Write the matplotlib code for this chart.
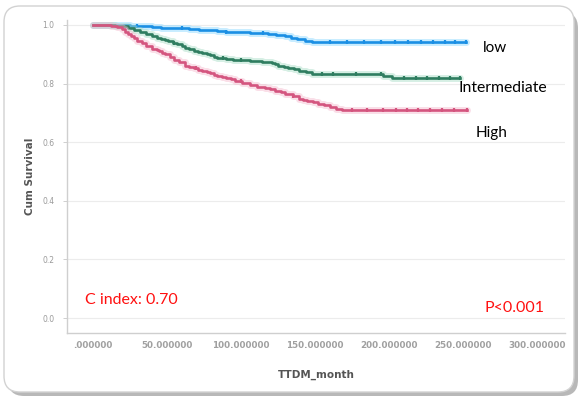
import numpy as np
import matplotlib.pyplot as plt
from matplotlib.patches import FancyBboxPatch
from matplotlib.transforms import IdentityTransform

# Kaplan-Meier estimates per risk group (months, cumulative survival)
low_t = [0, 10, 25, 33, 40, 46, 52, 58, 65, 72, 78, 84, 90, 95, 100, 106,
         112, 118, 124, 130, 134, 138, 143, 148, 252]
low_s = [1.0, 1.0, 0.997, 0.995, 0.993, 0.991, 0.99, 0.988, 0.986, 0.984,
         0.982, 0.979, 0.977, 0.976, 0.975, 0.973, 0.971, 0.968, 0.965, 0.962,
         0.957, 0.952, 0.947, 0.942, 0.942]

mid_t = [0, 15, 20, 24, 28, 32, 36, 40, 43, 46, 49, 51, 54, 57, 60, 62, 65,
         68, 71, 74, 77, 79, 82, 84, 90, 95, 100, 106, 110, 114, 118, 121, 123,
         125, 129, 132, 136, 139, 144, 148, 170, 189, 196, 202, 248]
mid_s = [1.0, 0.998, 0.995, 0.99, 0.983, 0.975, 0.968, 0.962, 0.957, 0.952,
         0.948, 0.946, 0.94, 0.935, 0.928, 0.922, 0.917, 0.912, 0.908, 0.905,
         0.9, 0.896, 0.892, 0.888, 0.885, 0.882, 0.88, 0.878, 0.876, 0.875,
         0.873, 0.871, 0.866, 0.861, 0.857, 0.853, 0.849, 0.844, 0.839, 0.834,
         0.834, 0.832, 0.825, 0.819, 0.819]

high_t = [0, 12, 16, 20, 22, 24, 26, 28, 30, 33, 36, 40, 43, 45, 47, 49, 52,
          55, 58, 62, 65, 68, 71, 74, 77, 79, 82, 84, 87, 90, 93, 96, 101, 106,
          111, 116, 120, 123, 127, 130, 135, 139, 142, 145, 149, 152, 156, 160,
          164, 168, 253]
high_s = [1.0, 0.998, 0.993, 0.985, 0.977, 0.969, 0.962, 0.955, 0.947, 0.939,
          0.929, 0.919, 0.914, 0.91, 0.906, 0.902, 0.892, 0.882, 0.872, 0.861,
          0.856, 0.852, 0.848, 0.844, 0.839, 0.835, 0.831, 0.827, 0.823, 0.819,
          0.815, 0.81, 0.802, 0.795, 0.79, 0.786, 0.781, 0.776, 0.771, 0.766,
          0.757, 0.749, 0.745, 0.742, 0.737, 0.732, 0.726, 0.72, 0.715, 0.71,
          0.71]

# censored observations
low_cens = [30, 60, 90, 115, 160, 172, 183, 195, 204, 213, 222, 230, 238, 245, 252]
mid_cens = [55, 88, 100, 155, 162, 178, 195, 210, 218, 226, 234, 241, 248]
high_cens = [70, 100, 135, 175, 185, 196, 205, 212, 220, 228, 236, 244, 253]

x_ticks = [0, 50, 100, 150, 200, 250, 300]
x_ticklabels = ['.000000', '50.000000', '100.000000', '150.000000',
                '200.000000', '250.000000', '300.000000']
y_ticks = [0.0, 0.2, 0.4, 0.6, 0.8, 1.0]
y_ticklabels = ['0.0', '0.2', '0.4', '0.6', '0.8', '1.0']

groups = [
    (low_t, low_s, low_cens, '#1b8fe4', '#86d6ff'),
    (mid_t, mid_s, mid_cens, '#2f7d60', '#a6dcc4'),
    (high_t, high_s, high_cens, '#d4557f', '#f5b8cc'),
]

W, H = 581, 398
fig = plt.figure(figsize=(W / 100, H / 100), dpi=100)
fig.patch.set_facecolor('white')

# rounded frame with a soft shadow (pixel coordinates, origin bottom-left)
shadow = FancyBboxPatch((8, 2), 570, 384, boxstyle='round,pad=0,rounding_size=16',
                        transform=IdentityTransform(), facecolor='#8a8a8a',
                        edgecolor='none', alpha=0.6, zorder=0)
frame = FancyBboxPatch((4, 6), 570, 386, boxstyle='round,pad=0,rounding_size=16',
                       transform=IdentityTransform(), facecolor='white',
                       edgecolor='#d2d2d2', linewidth=1.0, zorder=1)
fig.add_artist(shadow)
fig.add_artist(frame)

ax = fig.add_axes([67 / W, 1 - 333 / H, (565 - 67) / W, (333 - 20) / H])
ax.set_facecolor('none')
ax.set_zorder(2)

for t, s, cens, col, halo in groups:
    ax.step(t, s, where='post', color=halo, lw=5, alpha=0.45,
            solid_capstyle='round')
    ax.step(t, s, where='post', color=col, lw=1.9)
    idx = np.searchsorted(t, cens, side='right') - 1
    ax.plot(cens, np.array(s)[idx], linestyle='none', marker='|',
            markersize=3.5, markeredgewidth=1.6, color=col)

ax.set_xlim(-17.5, 319)
ax.set_ylim(-0.051, 1.017)
ax.set_xticks(x_ticks)
ax.set_xticklabels(x_ticklabels, fontsize=6.3, fontweight='bold', color='#a0a0a0')
ax.set_yticks(y_ticks)
ax.set_yticklabels(y_ticklabels, fontsize=5.5, color='#9a9a9a')
ax.tick_params(axis='x', length=0, pad=6)
ax.tick_params(axis='y', length=3, width=0.6, color='#c8c8c8', pad=6)
ax.grid(axis='y', color='#ececec', linewidth=0.8)
ax.set_axisbelow(True)
for side in ['top', 'right']:
    ax.spines[side].set_visible(False)
for side in ['left', 'bottom']:
    ax.spines[side].set_color('#cfcfcf')
    ax.spines[side].set_linewidth(1.0)

ax.set_ylabel('Cum Survival', fontsize=7.5, fontweight='bold', color='#555555',
              labelpad=5)
ax.set_xlabel('TTDM_month', fontsize=7.5, fontweight='bold', color='#555555',
              labelpad=14)

def px_text(x, y, s, **kw):
    fig.text(x / W, 1 - y / H, s, va='center', ha='left', family='Lato', **kw)

px_text(483, 48, 'low', fontsize=11, color='black')
px_text(458, 88, 'Intermediate', fontsize=11.3, color='black')
px_text(476, 133, 'High', fontsize=11, color='black')
px_text(85, 300, 'C index: 0.70', fontsize=11.5, color='#ff1010')
px_text(485, 308, 'P<0.001', fontsize=11.5, color='#ff1010')

fig.savefig('out.png', dpi=100)
